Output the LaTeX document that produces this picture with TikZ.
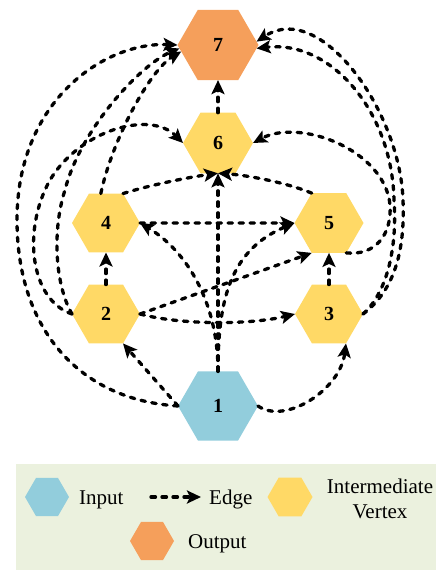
\documentclass[tikz,border=0pt]{standalone}
\usepackage{fontspec}
\setmainfont{Liberation Serif}
\usetikzlibrary{shapes.geometric,arrows.meta}
\definecolor{cin}{HTML}{92CDDC}
\definecolor{cout}{HTML}{F59F5B}
\definecolor{cmid}{HTML}{FFD966}
\definecolor{cleg}{HTML}{EBF1DE}
\tikzset{
  hexnode/.style={regular polygon, regular polygon sides=6, inner sep=0pt, outer sep=0pt,
    font=\bfseries\fontsize{20}{24}\selectfont},
  edge/.style={line width=3.3pt, dash pattern=on 4.5pt off 6.5pt, line cap=round,
    -{Stealth[length=14pt,width=13pt,inset=3pt]}},
  legtext/.style={inner sep=0pt, font=\fontsize{21}{25}\selectfont},
}
\begin{document}
\begin{tikzpicture}[x=1pt,y=-1pt]
\useasboundingbox (0,0) rectangle (436,570);
% nodes
\node[hexnode, fill=cout, minimum size=81pt] (n7) at (218,45) {7};
\node[hexnode, fill=cmid, minimum size=70pt] (n6) at (218,143) {6};
\node[hexnode, fill=cmid, minimum size=68pt] (n4) at (106,223) {4};
\node[hexnode, fill=cmid, minimum size=69pt] (n5) at (329,223) {5};
\node[hexnode, fill=cmid, minimum size=68pt] (n2) at (106,314) {2};
\node[hexnode, fill=cmid, minimum size=68pt] (n3) at (329,314) {3};
\node[hexnode, fill=cin, minimum size=80pt] (n1) at (218,406) {1};
% edges
\draw[edge] (n1.180) -- (n2.300);
\draw[edge] (n1.0) .. controls (285,425) and (340,390) .. (n3.300);
\draw[edge] (n1.180) .. controls (80,400) and (17,330) .. (17,220) .. controls (17,100) and (105,42) .. (n7.180);
\draw[edge] (n2.180) .. controls (30,300) and (22,230) .. (50,180) .. controls (80,130) and (150,110) .. (n6.180);
\draw[edge] (n2.180) .. controls (55,285) and (52,230) .. (65,190) .. controls (80,130) and (140,65) .. (n7.185);
\draw[edge] (n4.100) .. controls (112,140) and (150,70) .. (n7.190);
\draw[edge] (n4.60) .. controls (150,185) and (190,177) .. (n6.270);
\draw[edge] (n5.120) .. controls (285,182) and (245,175) .. (n6.270);
\draw[edge] (n1.90) -- (n6.270);
\draw[edge] (n1.90) .. controls (218,300) and (185,250) .. (n4.0);
\draw[edge] (n1.90) .. controls (218,300) and (230,250) .. (n5.180);
\draw[edge] (n4.0) -- (n5.180);
\draw[edge] (n2.0) -- (n5.240);
\draw[edge] (n2.0) .. controls (180,325) and (250,325) .. (n3.180);
\draw[edge] (n2.90) -- (n4.270);
\draw[edge] (n3.90) -- (n5.270);
\draw[edge] (n6.90) -- (n7.270);
\draw[edge] (n3.0) .. controls (395,290) and (405,250) .. (403,200) .. controls (400,110) and (320,0) .. (n7.5);
\draw[edge] (n3.0) .. controls (390,290) and (397,240) .. (394,200) .. controls (392,110) and (330,40) .. (n7.355);
\draw[edge] (n5.300) .. controls (375,256) and (392,235) .. (390,205) .. controls (385,150) and (300,118) .. (n6.0);
% legend
\fill[cleg] (16,464) rectangle (436,570);
\node[hexnode, fill=cin, minimum size=44pt] (lin) at (47,497) {};
\node[legtext, anchor=base west] (tin) at (79,504) {Input};
\coordinate (ea) at (151,497);
\coordinate (eb) at (201,497);
\draw[edge] (ea) -- (eb);
\node[legtext, anchor=base west] (tedge) at (209,504) {Edge};
\node[hexnode, fill=cmid, minimum size=45pt] (lmid) at (290,497) {};
\node[legtext, anchor=base] (tmid1) at (380,493) {Intermediate};
\node[legtext, anchor=base] (tmid2) at (380,518) {Vertex};
\node[hexnode, fill=cout, minimum size=44pt] (lout) at (152,541) {};
\node[legtext, anchor=base west] (tout) at (188,548) {Output};
\end{tikzpicture}
\end{document}
